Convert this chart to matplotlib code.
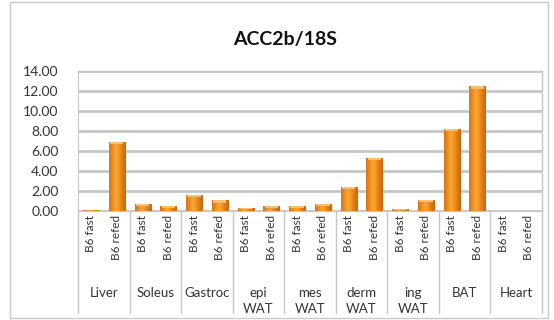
import numpy as np
import matplotlib.pyplot as plt
from matplotlib.patches import Rectangle
from matplotlib.transforms import blended_transform_factory

# data
tissues = ["Liver", "Soleus", "Gastroc", "epi\nWAT", "mes\nWAT", "derm\nWAT", "ing\nWAT", "BAT", "Heart"]
conditions = ["B6 fast", "B6 refed"]
fast = [0.10, 0.70, 1.60, 0.30, 0.50, 2.40, 0.15, 8.20, 0.0]
refed = [6.90, 0.50, 1.05, 0.50, 0.70, 5.30, 1.10, 12.50, 0.0]
yticks = [0, 2, 4, 6, 8, 10, 12, 14]

plt.rcParams['font.family'] = ['Lato', 'DejaVu Sans']

fig = plt.figure(figsize=(5.54, 3.2), dpi=100)
fig.patches.append(Rectangle((0.018, 0.005), 0.972, 0.99, transform=fig.transFigure,
                             fill=False, edgecolor='#c8c8c8', linewidth=1))
ax = fig.add_axes([0.141, 0.341, 0.837, 0.437])

n = len(tissues)
pos = []
vals = []
for i in range(n):
    pos += [2 * i, 2 * i + 1]
    vals += [fast[i], refed[i]]
pos = np.array(pos)
vals = np.array(vals)

ax.set_xlim(-0.5, 2 * n - 0.5)
ax.set_ylim(0, 14)
ax.set_yticks(yticks)
ax.set_yticklabels([f"{v:.2f}" for v in yticks], fontsize=10, color='#333333')
ax.yaxis.grid(True, color='#c6c6c6', linewidth=2.0)
ax.set_axisbelow(True)
for s in ax.spines.values():
    s.set_color('#c6c6c6')
ax.spines['top'].set_visible(False)
ax.spines['right'].set_visible(False)
ax.tick_params(axis='y', length=0, pad=14)
ax.tick_params(axis='x', length=0, pad=3)

bars = ax.bar(pos, vals, width=0.62, color='#e58016', edgecolor='#bf650e', linewidth=0.7, zorder=2)

# cylinder-like shading: dark edges, bright centre
grad = np.linspace(0, 1, 64)
shade = np.clip(1 - np.abs(grad - 0.45) * 2.1, 0, 1)
img = np.zeros((1, 64, 4))
img[0, :, 0] = 0.84 + 0.15 * shade
img[0, :, 1] = 0.44 + 0.22 * shade
img[0, :, 2] = 0.06 + 0.14 * shade
img[0, :, 3] = 1.0
for b in bars:
    h = b.get_height()
    if h <= 0:
        continue
    x0 = b.get_x()
    im = ax.imshow(img, extent=(x0, x0 + b.get_width(), 0, h), aspect='auto', zorder=3)
    im.set_clip_path(b)
    cap = min(0.25, h * 0.35)
    ax.add_patch(Rectangle((x0 + 0.05, h - cap), b.get_width() - 0.1, cap, color='#f8c070',
                           zorder=4, linewidth=0))
ax.set_xlim(-0.5, 2 * n - 0.5)
ax.set_ylim(0, 14)

ax.set_xticks(pos)
ax.set_xticklabels(conditions * n, rotation=90, fontsize=8.5, color='#333333')

trans = blended_transform_factory(ax.transData, ax.transAxes)
for i in range(n + 1):
    ax.plot([2 * i - 0.5] * 2, [0, -0.73], transform=trans, color='#c6c6c6', linewidth=1, clip_on=False)
ax.plot([2 * n - 0.5] * 2, [0, 1], transform=trans, color='#c6c6c6', linewidth=1, clip_on=False)
ax.plot([-0.5, 2 * n - 0.5], [1, 1], transform=trans, color='#c6c6c6', linewidth=1, clip_on=False)
for i, t in enumerate(tissues):
    ax.text(2 * i + 0.5, -0.545, t, transform=trans, ha='center', va='top', fontsize=9.5,
            color='#333333', linespacing=1.35)

fig.text(0.515, 0.875, "ACC2b/18S", ha='center', va='center', fontsize=14, fontweight='bold', color='#111111')

fig.savefig("out.png", dpi=100)
